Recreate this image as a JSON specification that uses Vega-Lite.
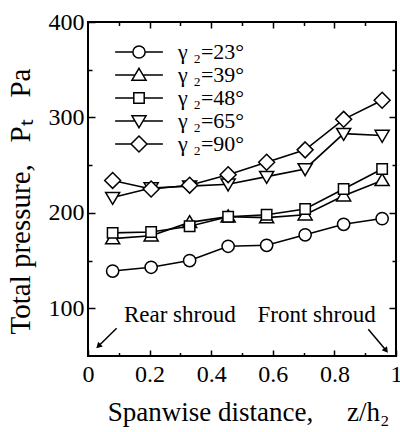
{
  "$schema": "https://vega.github.io/schema/vega-lite/v6.json",
  "width": 308,
  "height": 334,
  "autosize": {"type": "none"},
  "padding": {"left": 88, "top": 22, "right": 4, "bottom": 76},
  "background": "white",
  "config": {
    "view": {"stroke": "black", "strokeWidth": 2},
    "font": "Liberation Serif",
    "axis": {
      "domain": false,
      "grid": false,
      "tickColor": "black",
      "tickWidth": 1.5,
      "labelFont": "Liberation Serif",
      "labelFontSize": 24,
      "labelColor": "black",
      "labelFlush": false,
      "labelOverlap": false,
      "titleFont": "Liberation Serif",
      "titleFontSize": 27,
      "titleFontWeight": "normal",
      "titleColor": "black"
    }
  },
  "datasets": {
    "main": [
      {"z": 0.08, "p": 139, "g": "23"}, {"z": 0.205, "p": 143, "g": "23"}, {"z": 0.33, "p": 150, "g": "23"}, {"z": 0.455, "p": 165, "g": "23"},
      {"z": 0.58, "p": 166, "g": "23"}, {"z": 0.705, "p": 177, "g": "23"}, {"z": 0.83, "p": 188, "g": "23"}, {"z": 0.955, "p": 194, "g": "23"},
      {"z": 0.08, "p": 173, "g": "39"}, {"z": 0.205, "p": 176, "g": "39"}, {"z": 0.33, "p": 190, "g": "39"}, {"z": 0.455, "p": 196, "g": "39"},
      {"z": 0.58, "p": 195, "g": "39"}, {"z": 0.705, "p": 198, "g": "39"}, {"z": 0.83, "p": 218, "g": "39"}, {"z": 0.955, "p": 234, "g": "39"},
      {"z": 0.08, "p": 179, "g": "48"}, {"z": 0.205, "p": 180, "g": "48"}, {"z": 0.33, "p": 186, "g": "48"}, {"z": 0.455, "p": 196, "g": "48"},
      {"z": 0.58, "p": 198, "g": "48"}, {"z": 0.705, "p": 204, "g": "48"}, {"z": 0.83, "p": 225, "g": "48"}, {"z": 0.955, "p": 246, "g": "48"},
      {"z": 0.08, "p": 216, "g": "65"}, {"z": 0.205, "p": 226, "g": "65"}, {"z": 0.33, "p": 228, "g": "65"}, {"z": 0.455, "p": 230, "g": "65"},
      {"z": 0.58, "p": 238, "g": "65"}, {"z": 0.705, "p": 246, "g": "65"}, {"z": 0.83, "p": 283, "g": "65"}, {"z": 0.955, "p": 281, "g": "65"},
      {"z": 0.08, "p": 234, "g": "90"}, {"z": 0.205, "p": 225, "g": "90"}, {"z": 0.33, "p": 229, "g": "90"}, {"z": 0.455, "p": 240, "g": "90"},
      {"z": 0.58, "p": 253, "g": "90"}, {"z": 0.705, "p": 266, "g": "90"}, {"z": 0.83, "p": 298, "g": "90"}, {"z": 0.955, "p": 318, "g": "90"}
    ],
    "notes": [
      {"label": "Rear shroud", "z": 0.298, "p": 86},
      {"label": "Front shroud", "z": 0.742, "p": 86}
    ],
    "arrows": [
      {"side": "rear", "z": 0.093, "p": 79, "z2": 0.036, "p2": 61},
      {"side": "front", "z": 0.91, "p": 78, "z2": 0.966, "p2": 56.5}
    ]
  },
  "layer": [
    {
      "data": {"name": "main"},
      "mark": {"type": "line", "color": "black", "strokeWidth": 1.6},
      "encoding": {
        "x": {"field": "z", "type": "quantitative", "scale": {"domain": [0, 1], "nice": false},
          "axis": {"orient": "bottom", "values": [0, 0.2, 0.4, 0.6, 0.8, 1], "format": "~g", "tickSize": -6, "labelPadding": 12,
            "title": "Spanwise distance,\u00a0\u00a0\u00a0\u00a0\u00a0z/h₂", "titleX": 160, "titleY": 64, "titleAlign": "center", "titleBaseline": "alphabetic"}},
        "y": {"field": "p", "type": "quantitative", "scale": {"domain": [50, 400], "nice": false},
          "axis": {"orient": "left", "values": [100, 200, 300, 400], "tickSize": -7, "labelPadding": 11,
            "title": "Total pressure,\u00a0\u00a0\u00a0Pₜ\u00a0\u00a0\u00a0Pa", "titleFontSize": 29, "titleX": -68, "titleY": 179, "titleAngle": -90, "titleAlign": "center", "titleBaseline": "middle"}},
        "detail": {"field": "g", "type": "nominal"}
      }
    },
    {
      "data": {"name": "main"},
      "mark": {"type": "point", "filled": true, "fill": "white", "stroke": "black", "strokeWidth": 1.5, "size": 150, "opacity": 1},
      "encoding": {
        "x": {"field": "z", "type": "quantitative", "scale": {"domain": [0, 1], "nice": false},
          "axis": {"orient": "top", "values": [0.1, 0.2, 0.3, 0.4, 0.5, 0.6, 0.7, 0.8, 0.9], "labels": false, "title": null,
            "tickSize": {"condition": {"test": "round(datum.value*10)%2===0", "value": -6}, "value": -3.5}}},
        "y": {"field": "p", "type": "quantitative", "scale": {"domain": [50, 400], "nice": false},
          "axis": {"orient": "right", "values": [100, 150, 200, 250, 300, 350], "labels": false, "title": null,
            "tickSize": {"condition": {"test": "datum.value%100===0", "value": -7}, "value": -4}}},
        "shape": {
          "field": "g", "type": "nominal",
          "scale": {
            "domain": ["23", "39", "48", "65", "90"],
            "range": [
              "circle",
              "M0,-1.1L1.15,0.85L-1.15,0.85Z",
              "M-0.85,-0.85H0.85V0.85H-0.85Z",
              "M0,1.1L1.15,-0.85L-1.15,-0.85Z",
              "M0,-1.3L1.3,0L0,1.3L-1.3,0Z"
            ]
          },
          "legend": null
        }
      }
    },
    {
      "data": {"name": "main"},
      "mark": {"type": "point", "filled": false, "stroke": "black", "strokeWidth": 1.5, "size": 150, "opacity": 0},
      "encoding": {
        "x": {"field": "z", "type": "quantitative", "scale": {"domain": [0, 1], "nice": false}, "axis": null},
        "y": {"field": "p", "type": "quantitative", "scale": {"domain": [50, 400], "nice": false}, "axis": null},
        "shape": {
          "field": "g", "type": "nominal",
          "scale": {
            "domain": ["23", "39", "48", "65", "90"],
            "range": [
              "M-3.9,0H-1M1,0H3.9M-1,0C-1,-0.55,-0.55,-1,0,-1C0.55,-1,1,-0.55,1,0C1,0.55,0.55,1,0,1C-0.55,1,-1,0.55,-1,0Z",
              "M-3.9,0H-0.65M0.65,0H3.9M0,-1.1L1.15,0.85L-1.15,0.85Z",
              "M-3.9,0H-0.85M0.85,0H3.9M-0.85,-0.85H0.85V0.85H-0.85Z",
              "M-3.9,0H-0.65M0.65,0H3.9M0,1.1L1.15,-0.85L-1.15,-0.85Z",
              "M-3.9,0H-1.3M1.3,0H3.9M0,-1.3L1.3,0L0,1.3L-1.3,0Z"
            ]
          },
          "legend": {
            "orient": "none", "legendX": 40, "legendY": 19, "title": null, "padding": 0,
            "labelExpr": "'γ ₂=' + datum.label + '°'",
            "labelFont": "Liberation Serif", "labelFontSize": 22, "labelColor": "black", "labelOffset": 28, "labelBaseline": "middle",
            "symbolSize": 150, "symbolStrokeWidth": 1.5, "symbolStrokeColor": "black", "symbolFillColor": "white", "symbolOpacity": 1,
            "rowPadding": 1,
            "encode": {
              "symbols": {
                "update": {
                  "fill": {"value": "white"},
                  "stroke": {"value": "black"},
                  "strokeWidth": {"value": 1.5},
                  "opacity": {"value": 1},
                  "fillOpacity": {"value": 1},
                  "strokeOpacity": {"value": 1}
                }
              }
            }
          }
        }
      }
    },
    {
      "data": {"name": "notes"},
      "mark": {"type": "text", "font": "Liberation Serif", "fontSize": 23, "align": "center", "baseline": "alphabetic", "color": "black"},
      "encoding": {
        "x": {"field": "z", "type": "quantitative", "scale": {"domain": [0, 1], "nice": false},
          "axis": {"orient": "bottom", "values": [0.1, 0.3, 0.5, 0.7, 0.9], "labels": false, "title": null, "tickSize": -3.5}},
        "y": {"field": "p", "type": "quantitative", "scale": {"domain": [50, 400], "nice": false},
          "axis": {"orient": "left", "values": [150, 250, 350], "labels": false, "title": null, "tickSize": -4}},
        "text": {"field": "label", "type": "nominal"}
      }
    },
    {
      "data": {"name": "arrows"},
      "mark": {"type": "rule", "color": "black", "strokeWidth": 1.5},
      "encoding": {
        "x": {"field": "z", "type": "quantitative", "scale": {"domain": [0, 1], "nice": false}, "axis": null},
        "y": {"field": "p", "type": "quantitative", "scale": {"domain": [50, 400], "nice": false}, "axis": null},
        "x2": {"field": "z2"},
        "y2": {"field": "p2"}
      }
    },
    {
      "data": {"name": "arrows"},
      "transform": [{"filter": "datum.side === 'rear'"}],
      "mark": {"type": "point", "shape": "triangle", "filled": true, "color": "black", "size": 45, "angle": 226, "opacity": 1},
      "encoding": {
        "x": {"field": "z2", "type": "quantitative", "scale": {"domain": [0, 1], "nice": false}, "axis": null},
        "y": {"field": "p2", "type": "quantitative", "scale": {"domain": [50, 400], "nice": false}, "axis": null}
      }
    },
    {
      "data": {"name": "arrows"},
      "transform": [{"filter": "datum.side === 'front'"}],
      "mark": {"type": "point", "shape": "triangle", "filled": true, "color": "black", "size": 45, "angle": 142, "opacity": 1},
      "encoding": {
        "x": {"field": "z2", "type": "quantitative", "scale": {"domain": [0, 1], "nice": false}, "axis": null},
        "y": {"field": "p2", "type": "quantitative", "scale": {"domain": [50, 400], "nice": false}, "axis": null}
      }
    }
  ],
  "resolve": {"axis": {"x": "independent", "y": "independent"}, "scale": {"shape": "independent"}}
}
